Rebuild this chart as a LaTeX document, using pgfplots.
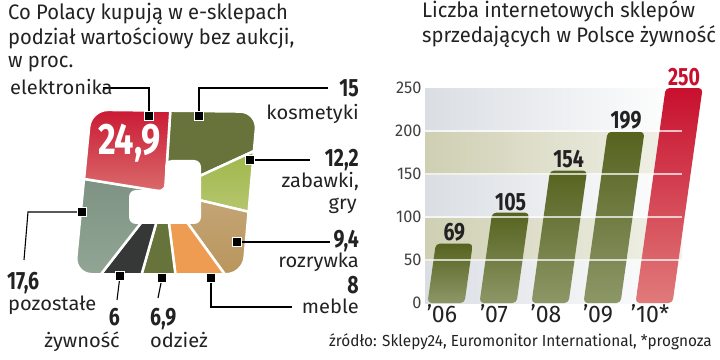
\documentclass[border=0pt]{standalone}
\usepackage{fontspec}
\setmainfont{Fira Sans}[FakeStretch=0.96]
\newfontfamily\labfamily{Fira Sans}[FakeStretch=1.03]
\newfontfamily\numfont{Fira Sans}[FakeStretch=0.78]
\usepackage{pgfplots}
\pgfplotsset{compat=1.18}
\definecolor{elTop}{HTML}{C8102E}
\definecolor{elBot}{HTML}{DA6B6B}
\definecolor{kos}{HTML}{67733A}
\definecolor{zabTop}{HTML}{9DB547}
\definecolor{zabBot}{HTML}{B6C770}
\definecolor{rozTop}{HTML}{C4A676}
\definecolor{rozBot}{HTML}{B8935A}
\definecolor{meb}{HTML}{EE9C52}
\definecolor{odz}{HTML}{66733A}
\definecolor{zyw}{HTML}{353837}
\definecolor{pozTop}{HTML}{7D9282}
\definecolor{pozBot}{HTML}{95A898}
\definecolor{barTop}{HTML}{56631F}
\definecolor{barBot}{HTML}{8C9767}
\definecolor{redTop}{HTML}{C8102E}
\definecolor{redBot}{HTML}{E07A7A}
\definecolor{bandG}{HTML}{DADEE3}
\definecolor{bandO}{HTML}{CFCFB3}
\definecolor{bandOr}{HTML}{F2F2EA}
\definecolor{txt}{HTML}{222222}
\newcommand\tfont{\fontsize{21}{24}\selectfont}
\newcommand\lfont{\labfamily\fontsize{19.5}{22}\selectfont}
\newcommand\nfont{\numfont\bfseries\fontsize{25}{25}\selectfont}
\pgfplotsset{
  seg/.style={draw=white, line width=2.5pt, mark=none},
  leader/.style={black, line width=1.1pt, mark=square*, mark size=4.5pt, mark indices={1}, mark options={fill=black, draw=white, line width=0.8pt}},
  band/.style={draw=none, mark=none},
  mybar/.style={ybar, bar width=37pt, bar shift=0pt, xslant=0.14, rounded corners=4pt, draw=none, nodes near coords},
  gridw/.style={white, opacity=0.7, line width=1.2pt, mark=none},
}
\begin{document}
\begin{tikzpicture}[x=1pt,y=1pt]
\path (0pt,0pt) rectangle (720pt,359pt);
% ---------------- pie-like chart ----------------
\begin{axis}[at={(0pt,0pt)}, anchor=south west, scale only axis,
  width=360pt, height=359pt, xmin=-165, xmax=195, ymin=-167, ymax=192,
  hide axis, clip=false]
% segments (clockwise from top): kosmetyki 15, zabawki 12.2, rozrywka 9.4,
% meble 8, odziez 6.9, zywnosc 6, pozostale 17.6, elektronika 24.9
\addplot[seg, fill=kos] coordinates {(0,0) (6,92) (103,92) (100,46)} -- cycle;
\addplot[seg, top color=zabTop, bottom color=zabBot] coordinates {(0,0) (100,46) (97,-23)} -- cycle;
\addplot[seg, top color=rozTop, bottom color=rozBot] coordinates {(0,0) (97,-23) (92,-95) (69,-95)} -- cycle;
\addplot[seg, fill=meb] coordinates {(0,0) (69,-95) (12,-95)} -- cycle;
\addplot[seg, fill=odz] coordinates {(0,0) (12,-95) (-27,-95)} -- cycle;
\addplot[seg, fill=zyw] coordinates {(0,0) (-27,-95) (-74,-95)} -- cycle;
\addplot[seg, top color=pozTop, bottom color=pozBot] coordinates {(0,0) (-74,-95) (-104,-95) (-99,16)} -- cycle;
\addplot[seg, top color=elTop, bottom color=elBot] coordinates {(0,0) (-99,16) (-85,92) (6,92)} -- cycle;
% mask outside the rounded shape
\fill[white, even odd rule] (axis cs:-165,-167) rectangle (axis cs:195,192)
  [rounded corners=16pt] (axis cs:-73,81) -- (axis cs:91,79) -- (axis cs:77,-81) -- (axis cs:-89,-81) -- cycle;
% hole
\fill[white, rounded corners=7pt] (axis cs:0,32) -- (axis cs:36,32) -- (axis cs:36,-32) -- (axis cs:-36,-32) -- (axis cs:-36,2) -- (axis cs:0,2) -- cycle;
% leader lines
\addplot[leader] coordinates {(-16,76) (-16,104) (-62,104)};
\addplot[leader] coordinates {(34,76) (34,104) (163,104)};
\addplot[leader] coordinates {(85,32) (145,32)};
\addplot[leader] coordinates {(72,-50) (165,-50)};
\addplot[leader] coordinates {(46,-86) (46,-115) (127,-115)};
\addplot[leader] coordinates {(-3,-86) (-7,-106)};
\addplot[leader] coordinates {(-45,-84) (-48,-108)};
\addplot[leader] coordinates {(-83,-20) (-137,-20) (-141,-68)};
\end{axis}
% ---------------- bar chart ----------------
\begin{axis}[at={(425pt,56pt)}, anchor=south west, scale only axis,
  width=257pt, height=215pt, xmin=-0.404, xmax=4.538, ymin=0, ymax=250,
  clip=false, axis x line=bottom, axis y line=left,
  y axis line style={draw=none}, x axis line style={-, black, line width=1.2pt},
  major tick length=0pt, ytick={0,50,...,250}, xtick={0,1,2,3,4},
  xticklabels={'06,'07,'08,'09,'10*},
  /pgf/number format/assume math mode=true,
  yticklabel style={font=\fontsize{17}{17}\selectfont, text=black!75},
  xticklabel style={font=\fontsize{24}{24}\selectfont, text=txt, xshift=-4pt, yshift=2pt},
  nodes near coords style={font=\nfont, text=txt, anchor=south, inner sep=2pt}]
\addplot[band, left color=bandG, right color=white] coordinates {(-0.404,0) (4.538,0) (4.538,50) (-0.404,50)} -- cycle;
\addplot[band, left color=bandO, right color=bandOr] coordinates {(-0.404,50) (4.538,50) (4.538,100) (-0.404,100)} -- cycle;
\addplot[band, left color=bandG, right color=white] coordinates {(-0.404,100) (4.538,100) (4.538,150) (-0.404,150)} -- cycle;
\addplot[band, left color=bandO, right color=bandOr] coordinates {(-0.404,150) (4.538,150) (4.538,200) (-0.404,200)} -- cycle;
\addplot[band, left color=bandG, right color=white] coordinates {(-0.404,200) (4.538,200) (4.538,250) (-0.404,250)} -- cycle;
\addplot[mybar, top color=barTop, bottom color=barBot] coordinates {(0,69)};
\addplot[mybar, top color=barTop, bottom color=barBot] coordinates {(1,105)};
\addplot[mybar, top color=barTop, bottom color=barBot] coordinates {(2,154)};
\addplot[mybar, top color=barTop, bottom color=barBot] coordinates {(3,199)};
\addplot[mybar, top color=redTop, bottom color=redBot, nodes near coords style={text=redTop}] coordinates {(4,250)};
\addplot[gridw] coordinates {(-0.404,50) (4.538,50)};
\addplot[gridw] coordinates {(-0.404,100) (4.538,100)};
\addplot[gridw] coordinates {(-0.404,150) (4.538,150)};
\addplot[gridw] coordinates {(-0.404,200) (4.538,200)};
\end{axis}
% ---------------- texts ----------------
\begin{scope}[every node/.style={inner sep=0pt, text=txt}]
\node[anchor=base west, font=\tfont] at (8,339.5) {Co Polacy kupują w e-sklepach};
\node[anchor=base west, font=\tfont] at (8,314) {podział wartościowy bez aukcji,};
\node[anchor=base west, font=\tfont] at (8,291) {w proc.};
\node[anchor=base west, font=\tfont] at (422,341) {Liczba internetowych sklepów};
\node[anchor=base west, font=\tfont] at (422,316) {sprzedających w Polsce żywność};
\node[anchor=base west, font=\lfont] at (10,264) {elektronika};
\node[anchor=base east, font=\nfont] at (359,262) {15};
\node[anchor=base east, font=\lfont] at (359,239) {kosmetyki};
\node[anchor=base east, font=\nfont] at (359,192) {12,2};
\node[anchor=base east, font=\lfont] at (359,171) {zabawki,};
\node[anchor=base east, font=\lfont] at (357,149) {gry};
\node[anchor=base east, font=\nfont] at (359,111) {9,4};
\node[anchor=base east, font=\lfont] at (359,92) {rozrywka};
\node[anchor=base east, font=\nfont] at (359,66) {8};
\node[anchor=base east, font=\lfont] at (359,46) {meble};
\node[anchor=base west, font=\nfont] at (7,70) {17,6};
\node[anchor=base west, font=\lfont] at (8,49) {pozostałe};
\node[anchor=base east, font=\nfont] at (120,34) {6};
\node[anchor=base east, font=\lfont] at (120,12) {żywność};
\node[anchor=base west, font=\nfont] at (150,34) {6,9};
\node[anchor=base west, font=\lfont] at (150,12) {odzież};
\node[anchor=base west, font=\numfont\bfseries\fontsize{44}{44}\selectfont, text=white] at (98,204) {24,9};
\node[anchor=base east, font=\fontsize{16}{16}\selectfont] at (712,13) {źródło: Sklepy24, Euromonitor International, *prognoza};
\end{scope}
\end{tikzpicture}
\end{document}
